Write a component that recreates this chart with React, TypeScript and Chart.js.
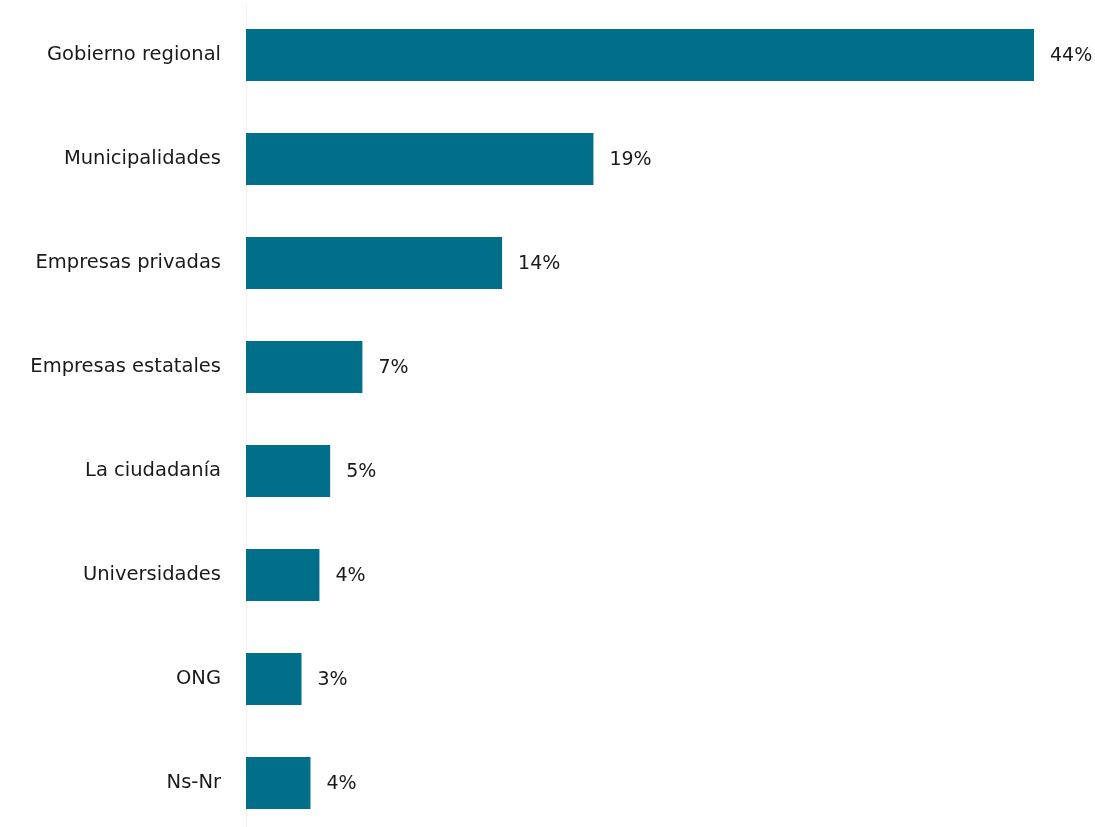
import React, { useEffect, useRef } from "react";
import { Chart, registerables } from "chart.js";

Chart.register(...registerables);

const categories = [
  "Gobierno regional",
  "Municipalidades",
  "Empresas privadas",
  "Empresas estatales",
  "La ciudadanía",
  "Universidades",
  "ONG",
  "Ns-Nr",
];
const values = [44, 19.4, 14.3, 6.5, 4.7, 4.1, 3.1, 3.6];
const valueLabels = ["44%", "19%", "14%", "7%", "5%", "4%", "3%", "4%"];

const FONT = "'DejaVu Sans', sans-serif";
const TEXT = "#1a1a1a";

const valueLabelPlugin = {
  id: "valueLabels",
  afterDatasetsDraw(chart: any) {
    const ctx = chart.ctx;
    const meta = chart.getDatasetMeta(0);
    ctx.save();
    ctx.font = `19px ${FONT}`;
    ctx.fillStyle = TEXT;
    ctx.textAlign = "left";
    ctx.textBaseline = "middle";
    meta.data.forEach((bar: any, i: number) => {
      ctx.fillText(valueLabels[i], bar.x + 16, bar.y + 1);
    });
    ctx.restore();
  },
};

export default function App() {
  const ref = useRef<HTMLCanvasElement | null>(null);
  useEffect(() => {
    if (!ref.current) return;
    const chart = new Chart(ref.current, {
      type: "bar",
      data: {
        labels: categories,
        datasets: [
          {
            data: values,
            backgroundColor: "#016f8a",
            borderWidth: 0,
            barPercentage: 0.5,
            categoryPercentage: 1,
          },
        ],
      },
      options: {
        indexAxis: "y",
        animation: false,
        responsive: false,
        maintainAspectRatio: false,
        layout: { padding: { top: 3, bottom: 1, left: 0, right: 61 } },
        plugins: { legend: { display: false }, tooltip: { enabled: false } },
        scales: {
          x: { display: false, min: 0, max: 44 },
          y: {
            grid: { display: false },
            border: { display: true, color: "#f3f3f3", width: 1 },
            ticks: {
              padding: 17,
              color: TEXT,
              font: { family: FONT, size: 19.5 },
            },
            afterFit(scale: any) {
              scale.width = 246;
              scale.paddingTop = 0;
              scale.paddingBottom = 0;
            },
          },
        },
      },
      plugins: [valueLabelPlugin],
    });
    return () => chart.destroy();
  }, []);
  return (
    <div
      style={{
        position: "fixed",
        left: 0,
        top: 0,
        width: 1095,
        height: 827,
        overflow: "hidden",
        background: "#fff",
      }}
    >
      <canvas ref={ref} width={1095} height={836} style={{ display: "block" }} />
    </div>
  );
}
